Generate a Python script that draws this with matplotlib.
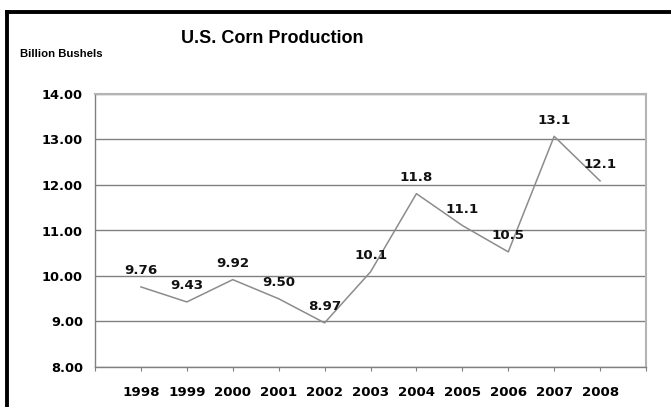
import matplotlib
matplotlib.use("Agg")
import matplotlib.pyplot as plt
from matplotlib.lines import Line2D

years = [1998, 1999, 2000, 2001, 2002, 2003, 2004, 2005, 2006, 2007, 2008]
production = [9.76, 9.43, 9.92, 9.50, 8.97, 10.09, 11.81, 11.11, 10.53, 13.07, 12.09]
labels = ["9.76", "9.43", "9.92", "9.50", "8.97", "10.1", "11.8", "11.1", "10.5", "13.1", "12.1"]
yticks = [8, 9, 10, 11, 12, 13, 14]

plt.rcParams['font.family'] = ['Liberation Sans', 'DejaVu Sans']
num_font = ['DejaVu Sans']
W, H = 671, 407
fig = plt.figure(figsize=(W / 100, H / 100), dpi=100)
ax = fig.add_axes([95 / W, (H - 367) / H, 551 / W, 273 / H])

ax.plot(years, production, color='#8c8c8c', lw=1.1)
for x, y, t in zip(years, production, labels):
    ax.annotate(t, (x, y), xytext=(0, 11.5), textcoords='offset points',
                ha='center', va='center', fontsize=9.6, fontweight='bold',
                color='#111111', family=num_font)

ax.set_xlim(years[0] - 1, years[-1] + 1)
ax.set_ylim(yticks[0], yticks[-1])
ax.set_yticks(yticks)
ax.set_yticklabels([f"{v:.2f}" for v in yticks], fontsize=9.4, fontweight='bold',
                   family=num_font)
ax.set_xticks(list(range(years[0] - 1, years[-1] + 2)))
ax.set_xticklabels([""] + [str(y) for y in years] + [""], fontsize=9.6,
                   fontweight='bold', family=num_font)
ax.tick_params(axis='x', length=3, color='#808080', pad=11)
ax.tick_params(axis='y', length=0, pad=8.6)
ax.grid(axis='y', color='#808080', lw=1)
ax.set_axisbelow(True)
for s in ['top', 'right']:
    ax.spines[s].set_color('#b4b4b4')
    ax.spines[s].set_linewidth(1.5)
for s in ['left', 'bottom']:
    ax.spines[s].set_color('#808080')
    ax.spines[s].set_linewidth(1)

fig.text(272 / W, 1 - 38.5 / H, "U.S. Corn Production", ha='center', va='center',
         fontsize=13, fontweight='bold')
fig.text(20 / W, 1 - 54 / H, "Billion Bushels", ha='left', va='center',
         fontsize=8.2, fontweight='bold')

fig.add_artist(Line2D([7 / W, 7 / W], [0, 1 - 11.5 / H], transform=fig.transFigure,
                      color='black', lw=2.8, solid_capstyle='projecting'))
fig.add_artist(Line2D([7 / W, 1], [1 - 11.5 / H, 1 - 11.5 / H], transform=fig.transFigure,
                      color='black', lw=2.8, solid_capstyle='projecting'))

fig.savefig("out.png", dpi=100)
